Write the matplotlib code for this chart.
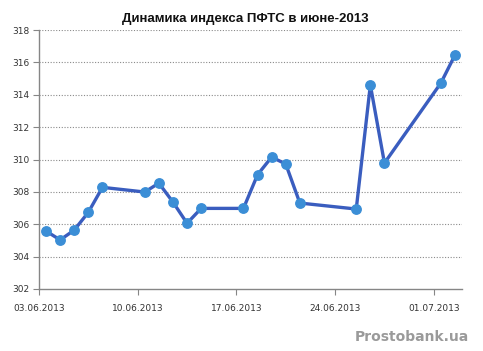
import matplotlib
matplotlib.use("Agg")
import matplotlib.pyplot as plt
import matplotlib.dates as mdates
from datetime import datetime, timedelta

dates = ["03.06.2013", "04.06.2013", "05.06.2013", "06.06.2013", "07.06.2013",
         "10.06.2013", "11.06.2013", "12.06.2013", "13.06.2013", "14.06.2013",
         "17.06.2013", "18.06.2013", "19.06.2013", "20.06.2013", "21.06.2013",
         "25.06.2013", "26.06.2013", "27.06.2013", "01.07.2013", "02.07.2013"]
values = [305.58, 305.03, 305.64, 306.74, 308.28,
          307.99, 308.54, 307.37, 306.06, 306.98,
          306.98, 309.06, 310.15, 309.72, 307.31,
          306.94, 314.6, 309.78, 314.72, 316.45]
tick_labels = ["03.06.2013", "10.06.2013", "17.06.2013", "24.06.2013", "01.07.2013"]
y_ticks = [302, 304, 306, 308, 310, 312, 314, 316, 318]
title = "Динамика индекса ПФТС в июне-2013"
watermark = "Prostobank.ua"

x = [datetime.strptime(d, "%d.%m.%Y") + timedelta(hours=12) for d in dates]
xt = [datetime.strptime(d, "%d.%m.%Y") for d in tick_labels]

fig = plt.figure(figsize=(4.83, 3.51), dpi=100)
ax = fig.add_axes([39/483, 1-289/351, (462-39)/483, (289-30)/351])

ax.plot(x, values, color="#3A5DBF", lw=2.4, zorder=3,
        marker="o", ms=6.8, mfc="#3B8ED6", mec="#3B8ED6", solid_joinstyle="round")

ax.set_xlim(datetime(2013, 6, 3), datetime(2013, 7, 3))
ax.set_ylim(302, 318)
ax.set_yticks(y_ticks)
ax.set_xticks(xt)
ax.xaxis.set_major_formatter(mdates.DateFormatter("%d.%m.%Y"))

for yv in y_ticks[1:]:
    ax.axhline(yv, color="#8a8a8a", lw=0.8, ls=(0, (1, 1.5)), zorder=1)

for s in ["top", "right"]:
    ax.spines[s].set_visible(False)
for s in ["left", "bottom"]:
    ax.spines[s].set_color("#868686")
    ax.spines[s].set_linewidth(1.0)

ax.tick_params(axis="both", colors="#868686", labelcolor="#333333",
               labelsize=6.5, length=4, width=0.8)
ax.tick_params(axis="x", pad=7)
ax.tick_params(axis="y", pad=3)

fig.text(245/483, 1-19/351, title, ha="center", va="center",
         fontsize=9.5, fontweight="bold", color="#111111",
         family=["Liberation Sans", "DejaVu Sans"])
fig.text(469/483, 1-337/351, watermark, ha="right", va="center",
         fontsize=10, fontweight="bold", color="#9a9a9a")

fig.savefig("out.png", dpi=100)
